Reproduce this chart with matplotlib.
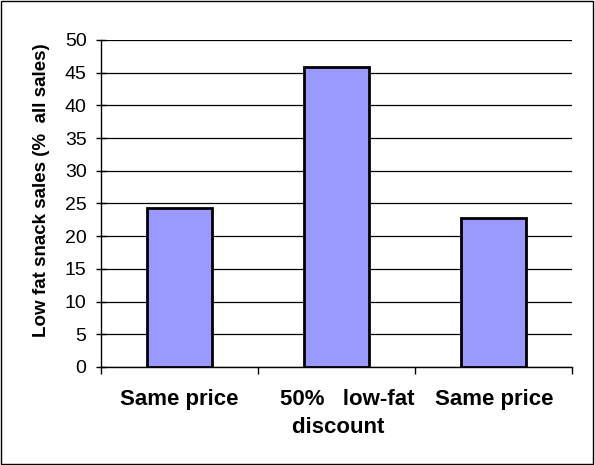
import matplotlib
matplotlib.use("Agg")
import matplotlib.pyplot as plt
import matplotlib.transforms as mtransforms
from matplotlib.patches import Rectangle

plt.rcParams['font.family'] = ['Liberation Sans', 'DejaVu Sans']

# data
categories = ["Same price", "50%   low-fat\ndiscount   ", "Same price"]
sales = [24.3, 45.8, 22.8]
y_ticks = list(range(0, 51, 5))

# small horizontal nudges (pixels) of the category labels, as in the original
label_dx = [0, 11, 1]

fig = plt.figure(figsize=(5.95, 4.65), dpi=100)
ax = fig.add_axes([0.170, 0.211, 0.791, 0.703])

xs = list(range(len(categories)))
ax.bar(xs, sales, width=0.41, color="#9999FF", edgecolor="black", linewidth=2, zorder=3)

ax.set_xlim(-0.5, len(categories) - 0.5)
ax.set_ylim(0, 50)
ax.set_yticks(y_ticks)
ax.tick_params(axis="y", length=7, width=1, direction="inout", labelsize=14, pad=7)
ax.yaxis.grid(True, color="black", linewidth=0.9, zorder=0)

# category boundaries carry the tick marks, labels sit under the bars
ax.set_xticks([-0.5, 0.5, 1.5, 2.5])
ax.set_xticklabels([])
ax.tick_params(axis="x", length=5, width=1, direction="out")
for i, c in enumerate(categories):
    tr = ax.get_xaxis_transform() + mtransforms.ScaledTranslation(
        label_dx[i] / 100, 0, fig.dpi_scale_trans)
    ax.text(i, -0.068, c, transform=tr, ha="center", va="top",
            fontsize=16, fontweight="bold", linespacing=1.4)

for s in ["top", "right"]:
    ax.spines[s].set_visible(False)
ax.spines["left"].set_linewidth(1)
ax.spines["bottom"].set_linewidth(1)

ax.set_ylabel("Low fat snack sales (%  all sales)", fontsize=13.5, fontweight="bold")
ax.yaxis.set_label_coords(-0.109, 0.541)

# outer frame of the chart area
fig.patches.append(Rectangle((0.002, 0.002), 0.995, 0.995, transform=fig.transFigure,
                             fill=False, edgecolor="black", linewidth=1))

fig.savefig("out.png", dpi=100)
